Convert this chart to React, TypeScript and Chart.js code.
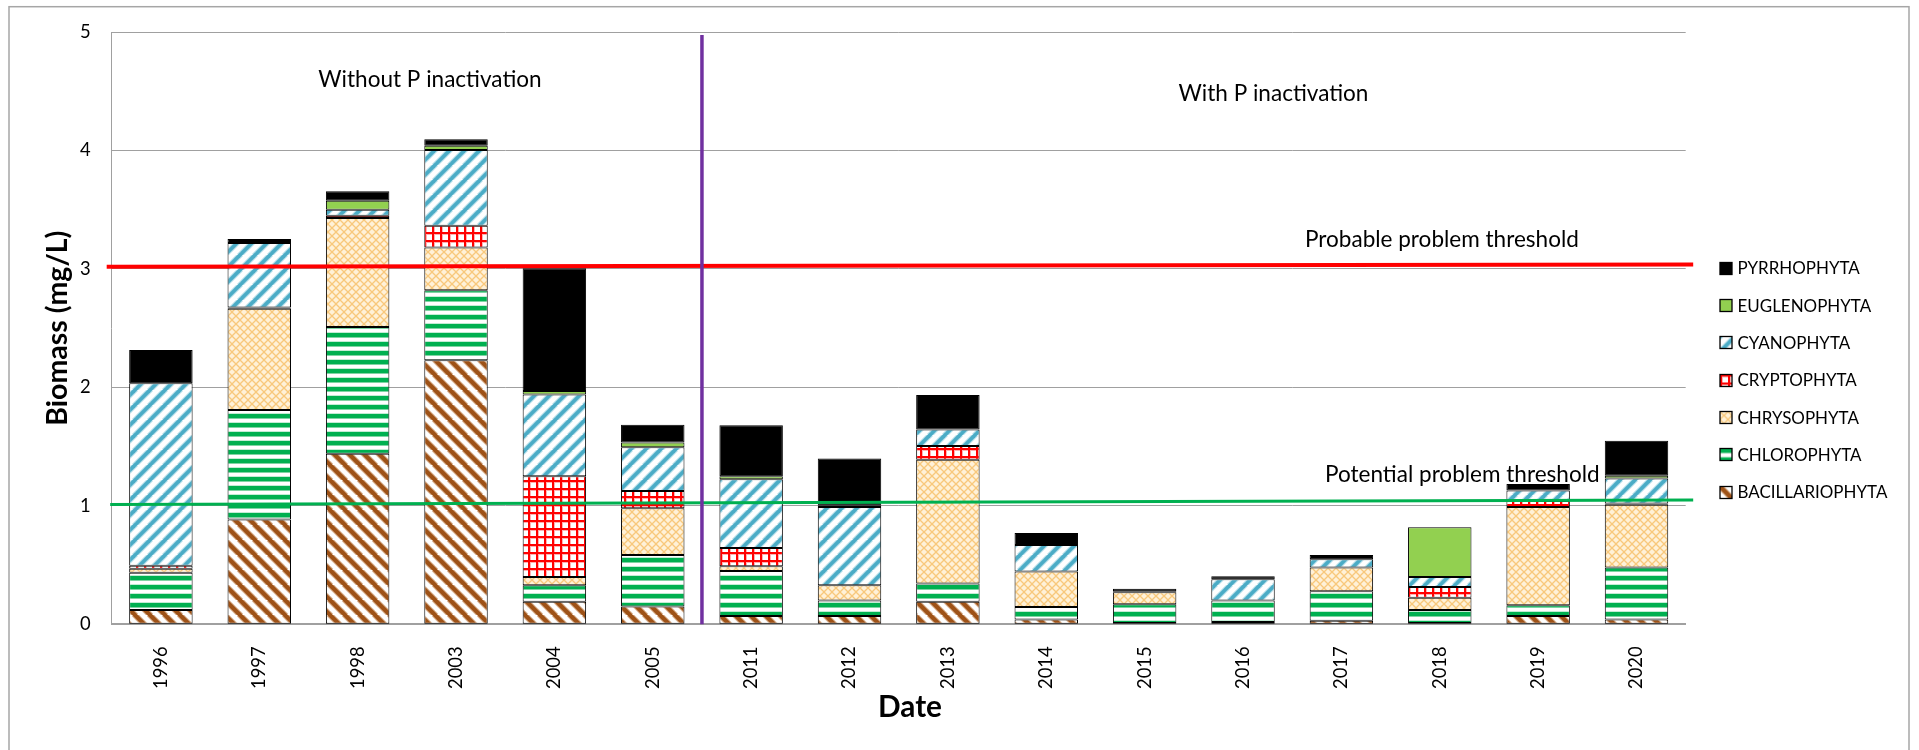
import React, { useEffect, useRef } from 'react';
import { Chart, registerables } from 'chart.js';

Chart.register(...registerables);

// Sampling years (category axis)
const years = ['1996', '1997', '1998', '2003', '2004', '2005', '2011', '2012', '2013', '2014', '2015', '2016', '2017', '2018', '2019', '2020'];

// Biomass by phylum, mg/L
const bacillariophyta = [0.12, 0.885, 1.44, 2.23, 0.19, 0.15, 0.07, 0.07, 0.19, 0.04, 0.01, 0.02, 0.03, 0.01, 0.07, 0.04];
const chlorophyta = [0.315, 0.925, 1.07, 0.59, 0.14, 0.435, 0.38, 0.13, 0.155, 0.105, 0.16, 0.18, 0.25, 0.11, 0.09, 0.44];
const chrysophyta = [0.035, 0.855, 0.92, 0.36, 0.07, 0.395, 0.04, 0.13, 1.045, 0.3, 0.1, 0, 0.2, 0.105, 0.83, 0.53];
const cryptophyta = [0.025, 0.01, 0.02, 0.185, 0.85, 0.145, 0.155, 0, 0.115, 0, 0, 0, 0, 0.09, 0.05, 0.01];
const cyanophyta = [1.54, 0.545, 0.05, 0.64, 0.69, 0.37, 0.58, 0.66, 0.14, 0.225, 0.01, 0.18, 0.07, 0.085, 0.09, 0.21];
const euglenophyta = [0, 0, 0.075, 0.035, 0.03, 0.04, 0.025, 0.01, 0, 0, 0, 0, 0, 0.42, 0, 0.025];
const pyrrhophyta = [0.28, 0.033, 0.08, 0.055, 1.035, 0.15, 0.43, 0.4, 0.29, 0.1, 0.02, 0.025, 0.035, 0, 0.055, 0.295];

// Threshold lines (value at left end, value at right end), mg/L
const probableThreshold = [3.018, 3.037];
const potentialThreshold = [1.011, 1.05];

// Last year before phosphorus inactivation started
const lastYearWithoutTreatment = '2005';

// Y axis range
const yMin = 0;
const yMax = 5;
const yStep = 1;

const FAMILY = 'Lato, "Open Sans", sans-serif';

type Tile = HTMLCanvasElement;

function makeTile(w: number, h: number, draw: (c: CanvasRenderingContext2D) => void): Tile {
  const cv = document.createElement('canvas');
  cv.width = w;
  cv.height = h;
  const c = cv.getContext('2d')!;
  c.fillStyle = '#ffffff';
  c.fillRect(0, 0, w, h);
  draw(c);
  return cv;
}

function diagonalTile(size: number, down: boolean, halo: string, core: string, haloW: number, coreW: number): Tile {
  return makeTile(size, size, (c) => {
    const stroke = (color: string, width: number) => {
      c.strokeStyle = color;
      c.lineWidth = width;
      for (let k = -1; k <= 1; k++) {
        c.beginPath();
        if (down) {
          c.moveTo(k * size - 1, -1);
          c.lineTo(k * size + size + 1, size + 1);
        } else {
          c.moveTo(k * size - 1, size + 1);
          c.lineTo(k * size + size + 1, -1);
        }
        c.stroke();
      }
    };
    stroke(halo, haloW);
    stroke(core, coreW);
  });
}

function buildTiles() {
  const bac = diagonalTile(15, true, '#dcb696', '#9e5217', 6.2, 4.2);
  const cyan = diagonalTile(15, false, '#b4dde9', '#4bacc6', 5.6, 3.6);
  const chl = makeTile(6, 9, (c) => {
    c.fillStyle = '#00b050';
    c.fillRect(0, 0, 6, 4);
    c.fillStyle = '#7fd4a4';
    c.fillRect(0, 4, 6, 1);
    c.fillStyle = '#c2ecd4';
    c.fillRect(0, 8, 6, 1);
  });
  const chry = makeTile(8, 8, (c) => {
    c.fillStyle = '#fff1d8';
    c.fillRect(0, 0, 8, 8);
    c.strokeStyle = '#f8c87c';
    c.lineWidth = 1.3;
    for (let k = -1; k <= 1; k++) {
      c.beginPath();
      c.moveTo(k * 8, 0);
      c.lineTo(k * 8 + 8, 8);
      c.stroke();
      c.beginPath();
      c.moveTo(k * 8, 8);
      c.lineTo(k * 8 + 8, 0);
      c.stroke();
    }
  });
  const cryp = makeTile(8, 8, (c) => {
    c.fillStyle = '#ffb0b0';
    c.fillRect(0, 2, 8, 1);
    c.fillRect(2, 0, 1, 8);
    c.fillStyle = '#ff0000';
    c.fillRect(0, 0, 8, 2);
    c.fillRect(0, 0, 2, 8);
  });
  return { bac, chl, chry, cryp, cyan };
}

export default function App() {
  const canvasRef = useRef<HTMLCanvasElement>(null);

  useEffect(() => {
    const canvas = canvasRef.current;
    if (!canvas) return;
    const ctx = canvas.getContext('2d')!;

    // Font sizes are set so each label spans the width it is laid out for
    const probe = document.createElement('canvas').getContext('2d')!;
    const fit = (weight: string, text: string, width: number) => {
      probe.font = `${weight} 100px ${FAMILY}`;
      return (100 * width) / probe.measureText(text).width;
    };
    const noteSize = fit('400', 'Probable problem threshold', 274);
    const keySize = fit('400', 'BACILLARIOPHYTA', 150);
    const tickSize = fit('400', '1996', 42.7);
    const yTitleSize = fit('700', 'Biomass (mg/L)', 195);
    const xTitleSize = fit('700', 'Date', 64);

    const tiles = buildTiles();
    const pat = (t: Tile | string): string | CanvasPattern =>
      typeof t === 'string' ? t : (ctx.createPattern(t, 'repeat') as CanvasPattern);

    const phyla: { name: string; values: number[]; fill: Tile | string }[] = [
      { name: 'BACILLARIOPHYTA', values: bacillariophyta, fill: tiles.bac },
      { name: 'CHLOROPHYTA', values: chlorophyta, fill: tiles.chl },
      { name: 'CHRYSOPHYTA', values: chrysophyta, fill: tiles.chry },
      { name: 'CRYPTOPHYTA', values: cryptophyta, fill: tiles.cryp },
      { name: 'CYANOPHYTA', values: cyanophyta, fill: tiles.cyan },
      { name: 'EUGLENOPHYTA', values: euglenophyta, fill: '#92d050' },
      { name: 'PYRRHOPHYTA', values: pyrrhophyta, fill: '#000000' },
    ];

    const overlay = {
      id: 'overlay',
      beforeDraw(chart: Chart) {
        const c = chart.ctx;
        c.save();
        c.fillStyle = '#ffffff';
        c.fillRect(0, 0, chart.width, chart.height);
        c.strokeStyle = '#a6a6a6';
        c.lineWidth = 1.5;
        c.strokeRect(9, 6.7, 1900, 770);
        c.restore();
      },
      afterDatasetsDraw(chart: Chart) {
        const c = chart.ctx;
        const xs = chart.scales.x;
        const ys = chart.scales.y;
        const area = chart.chartArea;
        c.save();

        const line = (x1: number, y1: number, x2: number, y2: number, color: string, width: number) => {
          c.strokeStyle = color;
          c.lineWidth = width;
          c.beginPath();
          c.moveTo(x1, y1);
          c.lineTo(x2, y2);
          c.stroke();
        };

        // Threshold lines
        line(area.left - 5, ys.getPixelForValue(probableThreshold[0]), area.right + 7.5,
          ys.getPixelForValue(probableThreshold[1]), '#ff0000', 4);
        line(area.left - 1.5, ys.getPixelForValue(potentialThreshold[0]), area.right + 7.5,
          ys.getPixelForValue(potentialThreshold[1]), '#00b050', 3);

        // Divider between untreated and treated years
        const idx = years.indexOf(lastYearWithoutTreatment);
        const xd = (xs.getPixelForValue(idx) + xs.getPixelForValue(idx + 1)) / 2;
        line(xd, area.top + 3, xd, area.bottom, '#7030a0', 3.5);

        // Notes
        c.fillStyle = '#000000';
        c.font = `400 ${noteSize}px ${FAMILY}`;
        c.textBaseline = 'alphabetic';
        c.textAlign = 'center';
        c.fillText('Without P inactivation', 430, 87);
        c.fillText('With P inactivation', 1273.5, 101);
        c.textAlign = 'left';
        c.fillText('Probable problem threshold', 1305, 247);
        c.fillText('Potential problem threshold', 1325, 481.5);

        // Key, top entry = top of the stack
        c.font = `400 ${keySize}px ${FAMILY}`;
        const ds = chart.data.datasets;
        for (let i = 0; i < ds.length; i++) {
          const d = ds[ds.length - 1 - i];
          const cy = 267.7 + 37.33 * i;
          const bx = 1720;
          const by = Math.round(cy - 6) + 0.5;
          const src = phyla[ds.length - 1 - i].fill;
          if (typeof src === 'string') {
            c.fillStyle = src;
          } else {
            const p = c.createPattern(src, 'repeat') as CanvasPattern;
            p.setTransform(new DOMMatrix([1, 0, 0, 1, bx, by]));
            c.fillStyle = p;
          }
          c.fillRect(bx, by, 12, 12);
          c.strokeStyle = '#000000';
          c.lineWidth = 1.3;
          c.strokeRect(bx, by, 12, 12);
          c.fillStyle = '#000000';
          c.fillText(String(d.label), 1737.5, cy + 6.5);
        }

        // Axis titles
        c.font = `700 ${xTitleSize}px ${FAMILY}`;
        c.textAlign = 'center';
        c.textBaseline = 'middle';
        c.fillText('Date', 910, 707);
        c.translate(58, (area.top + area.bottom) / 2);
        c.rotate(-Math.PI / 2);
        c.font = `700 ${yTitleSize}px ${FAMILY}`;
        c.fillText('Biomass (mg/L)', 0, 0);
        c.restore();
      },
    };

    const chart = new Chart(ctx, {
      type: 'bar',
      data: {
        labels: years,
        datasets: phyla.map((p) => ({
          label: p.name,
          data: p.values,
          backgroundColor: pat(p.fill) as any,
          borderColor: '#000000',
          borderWidth: 1,
          borderSkipped: false,
          barPercentage: 0.645,
          categoryPercentage: 1,
        })),
      },
      options: {
        responsive: false,
        animation: false,
        events: [],
        layout: { padding: { left: 0, top: 30.7, right: 233.3, bottom: 0 } },
        plugins: {
          legend: { display: false },
          tooltip: { enabled: false },
        },
        scales: {
          x: {
            stacked: true,
            grid: { display: false },
            border: { display: true, color: '#a0a0a0', width: 2 },
            ticks: {
              color: '#000000',
              font: { family: FAMILY, size: tickSize },
              minRotation: 90,
              maxRotation: 90,
              autoSkip: false,
              padding: 14,
            },
            afterFit: (s: any) => {
              s.height = 125.7;
            },
          },
          y: {
            stacked: true,
            min: yMin,
            max: yMax,
            ticks: {
              stepSize: yStep,
              color: '#000000',
              font: { family: FAMILY, size: tickSize },
              padding: 21,
            },
            grid: { color: '#a0a0a0', lineWidth: 1, drawTicks: false },
            border: { display: true, color: '#a0a0a0', width: 1 },
            afterFit: (s: any) => {
              s.width = 111.7;
            },
          },
        },
      },
      plugins: [overlay],
    });

    return () => chart.destroy();
  }, []);

  return (
    <div style={{ position: 'fixed', left: 0, top: 0, width: 1919, height: 750, background: '#ffffff' }}>
      <canvas ref={canvasRef} width={1919} height={750} style={{ display: 'block' }} />
    </div>
  );
}
